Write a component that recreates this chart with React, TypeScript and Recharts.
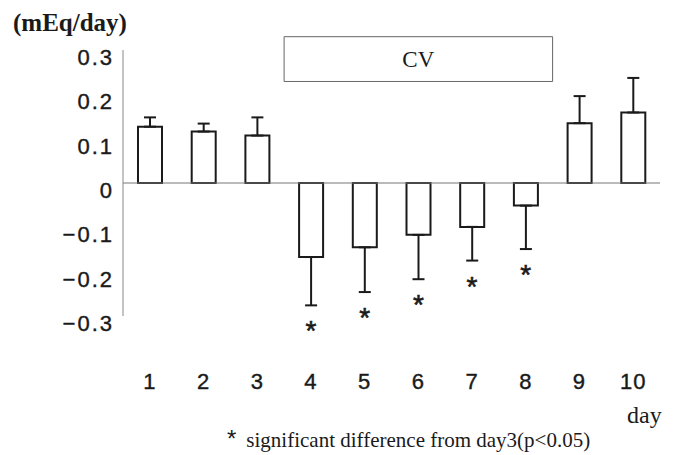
import {
  ComposedChart,
  Bar,
  ErrorBar,
  Line,
  XAxis,
  YAxis,
  ReferenceLine,
  ReferenceArea,
} from "recharts";

const days = ["1", "2", "3", "4", "5", "6", "7", "8", "9", "10"];
const values = [0.127, 0.116, 0.107, -0.167, -0.145, -0.117, -0.099, -0.051, 0.135, 0.159];
const errors = [0.021, 0.018, 0.041, 0.109, 0.101, 0.1, 0.076, 0.098, 0.061, 0.078];
const significant = [false, false, false, true, true, true, true, true, false, false];
const yTicks = [-0.3, -0.2, -0.1, 0, 0.1, 0.2, 0.3];
const cvBox = { from: "4", to: "8", low: 0.229, high: 0.33 };

const data = days.map((day, i) => ({
  day,
  value: values[i],
  // one-sided error bar, pointing away from zero
  err: values[i] >= 0 ? [0, errors[i]] : [errors[i], 0],
  star: significant[i] ? values[i] - errors[i] : null,
}));

const ink = "#1a1a1a";
const sans = "'Liberation Sans', Arial, sans-serif";
const serif = "'Liberation Serif', 'Times New Roman', serif";

const fmtY = (v: number) => (v < 0 ? "\u2212" + Math.abs(v).toFixed(1) : v === 0 ? "0" : v.toFixed(1));

const YTick = ({ x, y, payload }: any) => (
  <text x={x - 1} y={y + 15} textAnchor="end" fontFamily={sans} fontSize={22} letterSpacing={2} fill={ink} stroke={ink} strokeWidth={0.4}>
    {fmtY(payload.value)}
  </text>
);

const XTick = ({ x, y, payload }: any) => (
  <text x={x} y={y + 65} textAnchor="middle" fontFamily={sans} fontSize={22} letterSpacing={1} fill={ink} stroke={ink} strokeWidth={0.4}>
    {payload.value}
  </text>
);

const Star = ({ cx, cy, payload }: any) => {
  if (payload.star == null || cx == null || cy == null) return <g key={payload.day} />;
  return (
    <text key={payload.day} x={cx} y={cy + 35} textAnchor="middle" fontFamily={sans} fontSize={28} fill={ink} stroke={ink} strokeWidth={0.6}>
      *
    </text>
  );
};

export default function App() {
  return (
    <div style={{ position: "absolute", left: 0, top: 0, width: 674, height: 455, background: "#fff" }}>
      <ComposedChart width={674} height={455} data={data} margin={{ top: 50, right: 14, bottom: 99, left: 0 }}>
        <XAxis dataKey="day" axisLine={false} tickLine={false} height={40} tick={<XTick />} interval={0} />
        <YAxis
          width={123}
          domain={[-0.3, 0.3]}
          ticks={yTicks}
          tickLine={false}
          axisLine={{ stroke: "#888", strokeWidth: 1 }}
          tick={<YTick />}
        />
        <ReferenceArea
          x1={cvBox.from}
          x2={cvBox.to}
          y1={cvBox.low}
          y2={cvBox.high}
          ifOverflow="visible"
          fill="#fff"
          fillOpacity={1}
          stroke="#666"
          strokeWidth={1}
          label={{ value: "CV", position: "center", fontFamily: serif, fontSize: 23, fill: ink }}
        />
        <ReferenceLine y={0} stroke="#777" strokeWidth={1} />
        <Bar dataKey="value" fill="#fff" stroke={ink} strokeWidth={2} barSize={24} isAnimationActive={false}>
          <ErrorBar dataKey="err" direction="y" width={6} stroke={ink} strokeWidth={2} />
        </Bar>
        <Line dataKey="star" stroke="none" dot={<Star />} activeDot={false} isAnimationActive={false} />
      </ComposedChart>
      <div style={{ position: "absolute", left: 13, top: 9, fontFamily: serif, fontWeight: "bold", fontSize: 25, color: ink, whiteSpace: "nowrap" }}>
        (mEq/day)
      </div>
      <div style={{ position: "absolute", left: 627, top: 402, fontFamily: serif, fontSize: 24, color: ink }}>day</div>
      <div style={{ position: "absolute", left: 227, top: 425, fontFamily: serif, fontSize: 21, color: ink, whiteSpace: "nowrap" }}>
        <span style={{ fontFamily: sans, fontSize: 24, marginRight: 10 }}>*</span>significant difference from day3(p&lt;0.05)
      </div>
    </div>
  );
}
